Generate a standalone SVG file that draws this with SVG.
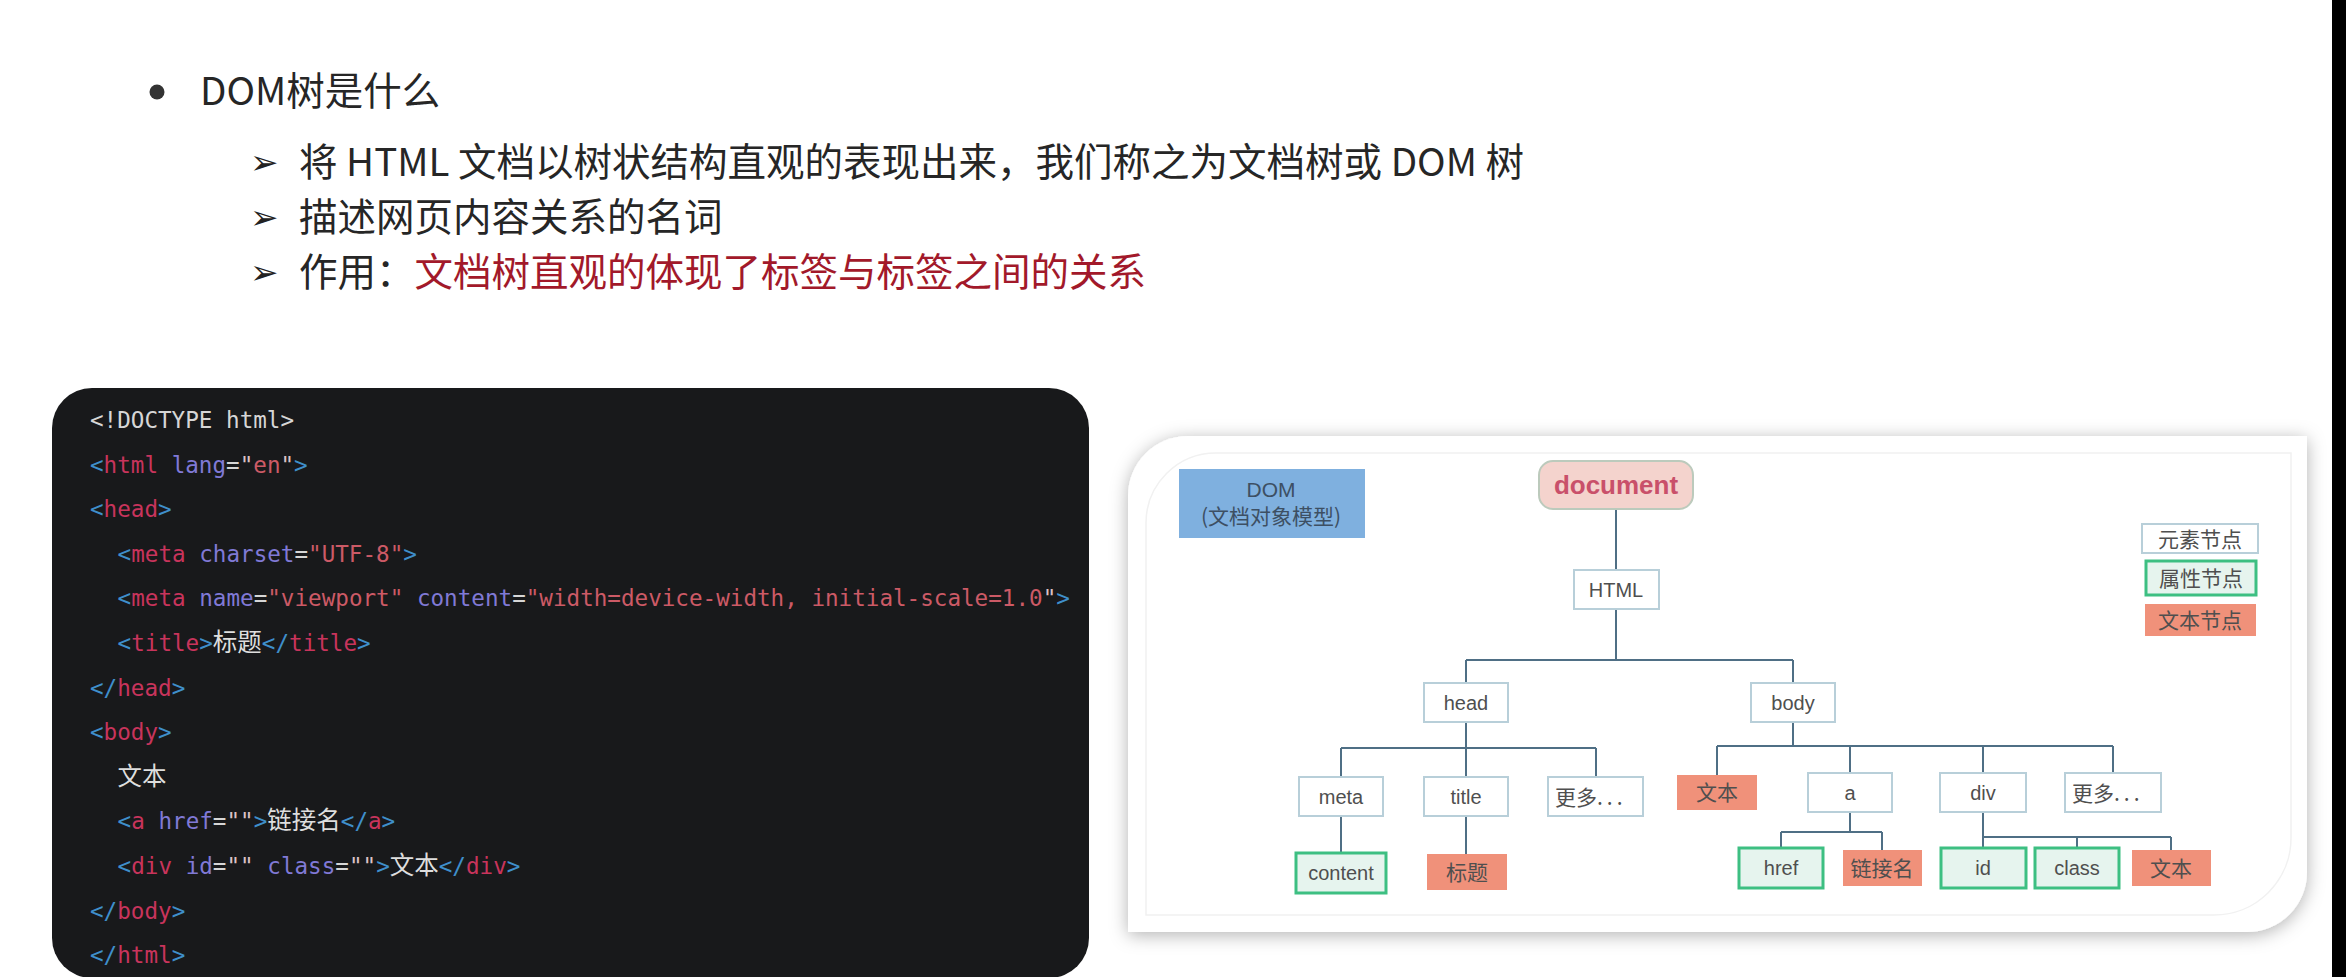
<svg xmlns="http://www.w3.org/2000/svg" width="2346" height="977" viewBox="0 0 2346 977">
<defs>
<style>
.h{font-family:"Noto Sans CJK SC","Noto Sans",sans-serif;font-size:38.5px;fill:#262626}
.red{fill:#a2192a}
.arr{font-family:"DejaVu Sans",sans-serif;font-size:34px;font-weight:bold;fill:#222}
.code{font-family:"DejaVu Sans Mono","Liberation Mono",monospace;font-size:22.6px;fill:#d6d6d6;white-space:pre}
.cj{font-family:"Noto Sans CJK SC",sans-serif;font-size:24.5px;fill:#dedede}
.p{fill:#3f8fcb}.t{fill:#c8345c}.a{fill:#8079d6}.s{fill:#cc5a66}.q{fill:#dcc2c6}
.el{fill:#fff;stroke:#b8cfd9;stroke-width:2}
.at{fill:#e6f4ee;stroke:#3dbf82;stroke-width:3}
.tx{fill:#f0917a}
.lb{font-family:"Liberation Sans",Arial,sans-serif;font-size:20px;fill:#4f4f4f;text-anchor:middle}
.lc{font-family:"Noto Sans CJK SC",sans-serif;font-size:21px;fill:#4f4f4f;text-anchor:middle}
.con{fill:none;stroke:#4f6f85;stroke-width:2}
</style>
<filter id="sh" x="-5%" y="-10%" width="110%" height="120%">
<feDropShadow dx="0" dy="3" stdDeviation="9" flood-color="#000" flood-opacity="0.3"/>
</filter>
</defs>
<rect width="2346" height="977" fill="#fff"/>
<rect x="2332" y="0" width="14" height="977" fill="#000"/>

<g id="heading">
<circle cx="157" cy="92" r="7.5" fill="#333"/>
<text class="h" x="200" y="105">DOM树是什么</text>
<text class="arr" x="250" y="174">➢</text>
<text class="h" x="299" y="176">将 HTML 文档以树状结构直观的表现出来，我们称之为文档树或 DOM 树</text>
<text class="arr" x="250" y="229">➢</text>
<text class="h" x="299" y="231">描述网页内容关系的名词</text>
<text class="arr" x="250" y="284">➢</text>
<text class="h" x="299" y="286">作用：<tspan class="red">文档树直观的体现了标签与标签之间的关系</tspan></text>
</g>

<g id="code-panel">
<rect x="52" y="388" width="1037" height="590" rx="40" fill="#18191b"/>
<text class="code" x="90" y="428">&lt;!DOCTYPE html&gt;</text>
<text class="code" x="90" y="472.6"><tspan class="p">&lt;</tspan><tspan class="t">html</tspan> <tspan class="a">lang</tspan>=<tspan class="q">"</tspan><tspan class="s">en</tspan><tspan class="q">"</tspan><tspan class="p">&gt;</tspan></text>
<text class="code" x="90" y="517.2"><tspan class="p">&lt;</tspan><tspan class="t">head</tspan><tspan class="p">&gt;</tspan></text>
<text class="code" x="117.6" y="561.8"><tspan class="p">&lt;</tspan><tspan class="t">meta</tspan> <tspan class="a">charset</tspan>=<tspan class="s">"UTF-8"</tspan><tspan class="p">&gt;</tspan></text>
<text class="code" x="117.6" y="606.4"><tspan class="p">&lt;</tspan><tspan class="t">meta</tspan> <tspan class="a">name</tspan>=<tspan class="s">"viewport"</tspan> <tspan class="a">content</tspan>=<tspan class="s">"width=device-width, initial-scale=1.0</tspan><tspan class="q">"</tspan><tspan class="p">&gt;</tspan></text>
<text class="code" x="117.6" y="651"><tspan class="p">&lt;</tspan><tspan class="t">title</tspan><tspan class="p">&gt;</tspan><tspan class="cj">标题</tspan><tspan class="p">&lt;/</tspan><tspan class="t">title</tspan><tspan class="p">&gt;</tspan></text>
<text class="code" x="90" y="695.6"><tspan class="p">&lt;/</tspan><tspan class="t">head</tspan><tspan class="p">&gt;</tspan></text>
<text class="code" x="90" y="740.2"><tspan class="p">&lt;</tspan><tspan class="t">body</tspan><tspan class="p">&gt;</tspan></text>
<text class="cj" x="117.6" y="784.8">文本</text>
<text class="code" x="117.6" y="829.4"><tspan class="p">&lt;</tspan><tspan class="t">a</tspan> <tspan class="a">href</tspan>=<tspan class="q">""</tspan><tspan class="p">&gt;</tspan><tspan class="cj">链接名</tspan><tspan class="p">&lt;/</tspan><tspan class="t">a</tspan><tspan class="p">&gt;</tspan></text>
<text class="code" x="117.6" y="874"><tspan class="p">&lt;</tspan><tspan class="t">div</tspan> <tspan class="a">id</tspan>=<tspan class="q">""</tspan> <tspan class="a">class</tspan>=<tspan class="q">""</tspan><tspan class="p">&gt;</tspan><tspan class="cj">文本</tspan><tspan class="p">&lt;/</tspan><tspan class="t">div</tspan><tspan class="p">&gt;</tspan></text>
<text class="code" x="90" y="918.6"><tspan class="p">&lt;/</tspan><tspan class="t">body</tspan><tspan class="p">&gt;</tspan></text>
<text class="code" x="90" y="963.2"><tspan class="p">&lt;/</tspan><tspan class="t">html</tspan><tspan class="p">&gt;</tspan></text>
</g>

<g id="dom-panel">
<path d="M1188,436 H2307 V872 A60,60 0 0 1 2247,932 H1128 V496 A60,60 0 0 1 1188,436 Z" fill="#fff" filter="url(#sh)"/>
<path d="M1216,453 H2291 V838 A77,77 0 0 1 2214,915 H1146 V523 A70,70 0 0 1 1216,453 Z" fill="none" stroke="#f1f1f1" stroke-width="1.5"/>
</g>

<g id="dom-label">
<rect x="1179" y="469" width="186" height="69" fill="#7fb0df"/>
<text x="1271" y="497" font-family="Liberation Sans, Arial, sans-serif" font-size="21" fill="#3d4f63" text-anchor="middle">DOM</text>
<text x="1271" y="524" font-family="Noto Sans CJK SC, sans-serif" font-size="21" fill="#3d4f63" text-anchor="middle">(文档对象模型)</text>
</g>

<g id="connectors">
<path class="con" d="M1616,509 V570 M1616,609 V660 M1466,660 H1793 M1466,660 V683 M1793,660 V683 M1466,722 V748 M1341,748 H1596 M1341,748 V777 M1466,748 V777 M1596,748 V777 M1341,816 V853 M1466,816 V854 M1793,722 V746 M1717,746 H2113 M1717,746 V775 M1850,746 V773 M1983,746 V773 M2113,746 V773 M1850,812 V832 M1781,832 H1882 M1781,832 V848 M1882,832 V850 M1983,812 V848 M1983,837 H2171 M2077,837 V848 M2171,837 V850"/>
</g>

<g id="node-document">
<rect x="1539" y="461" width="154" height="48" rx="14" fill="#f4d3cd" stroke="#bccabc" stroke-width="2"/>
<text x="1616" y="494" font-family="Liberation Sans, Arial, sans-serif" font-size="26" font-weight="bold" fill="#c9506a" text-anchor="middle">document</text>
</g>
<g id="node-html"><rect class="el" x="1574" y="570" width="85" height="39"/><text class="lb" x="1616" y="597">HTML</text></g>
<g id="node-head"><rect class="el" x="1424" y="683" width="84" height="39"/><text class="lb" x="1466" y="709.5">head</text></g>
<g id="node-body"><rect class="el" x="1751" y="683" width="84" height="39"/><text class="lb" x="1793" y="709.5">body</text></g>
<g id="node-meta"><rect class="el" x="1299" y="777" width="84" height="39"/><text class="lb" x="1341" y="803.5">meta</text></g>
<g id="node-title"><rect class="el" x="1424" y="777" width="84" height="39"/><text class="lb" x="1466" y="803.5">title</text></g>
<g id="node-more-head"><rect class="el" x="1548" y="777" width="95" height="39"/><text class="lc" x="1555" y="804.5" style="text-anchor:start">更多<tspan letter-spacing="4">...</tspan></text></g>
<g id="node-content"><rect class="at" x="1296" y="853" width="90" height="40"/><text class="lb" x="1341" y="880">content</text></g>
<g id="node-title-text"><rect class="tx" x="1427" y="854" width="80" height="36"/><text class="lc" x="1467" y="880">标题</text></g>
<g id="node-body-text"><rect class="tx" x="1677" y="775" width="80" height="35"/><text class="lc" x="1717" y="800">文本</text></g>
<g id="node-a"><rect class="el" x="1808" y="773" width="84" height="39"/><text class="lb" x="1850" y="799.5">a</text></g>
<g id="node-div"><rect class="el" x="1940" y="773" width="86" height="39"/><text class="lb" x="1983" y="799.5">div</text></g>
<g id="node-more-body"><rect class="el" x="2065" y="773" width="96" height="39"/><text class="lc" x="2072" y="800.5" style="text-anchor:start">更多<tspan letter-spacing="4">...</tspan></text></g>
<g id="node-href"><rect class="at" x="1739" y="848" width="84" height="40"/><text class="lb" x="1781" y="875">href</text></g>
<g id="node-link-text"><rect class="tx" x="1843" y="850" width="79" height="36"/><text class="lc" x="1882" y="876">链接名</text></g>
<g id="node-id"><rect class="at" x="1941" y="848" width="85" height="40"/><text class="lb" x="1983" y="875">id</text></g>
<g id="node-class"><rect class="at" x="2035" y="848" width="84" height="40"/><text class="lb" x="2077" y="875">class</text></g>
<g id="node-div-text"><rect class="tx" x="2132" y="850" width="79" height="36"/><text class="lc" x="2171" y="876">文本</text></g>

<g id="legend">
<rect class="el" x="2142" y="524" width="116" height="29"/><text class="lc" x="2200" y="546.5">元素节点</text>
<rect class="at" x="2146" y="561" width="110" height="34"/><text class="lc" x="2201" y="586">属性节点</text>
<rect class="tx" x="2145" y="604" width="111" height="32"/><text class="lc" x="2200" y="628">文本节点</text>
</g>
</svg>
